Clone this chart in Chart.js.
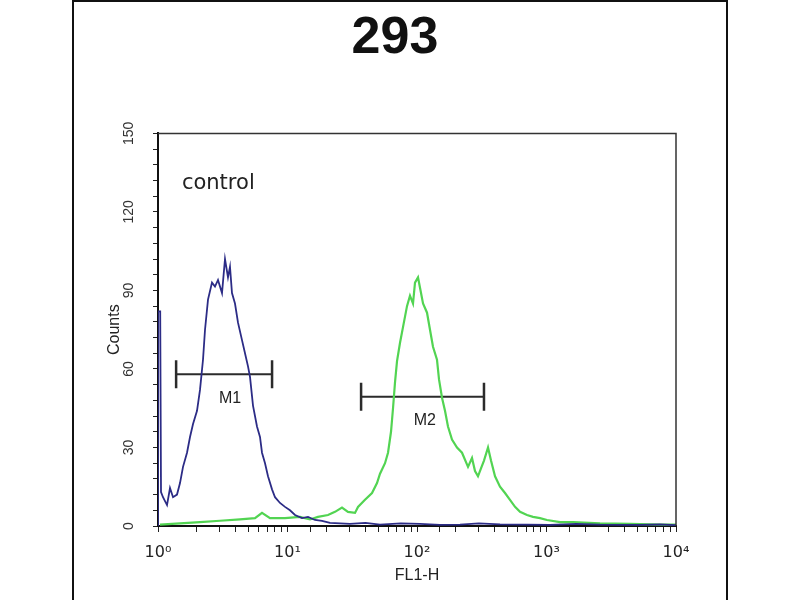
<!DOCTYPE html>
<html>
<head>
<meta charset="utf-8">
<script src="https://cdn.jsdelivr.net/npm/chart.js@4"></script>
<style>
  html, body { margin: 0; padding: 0; background: #fff; }
  #frame { position: absolute; left: 72px; top: 0; width: 656px; height: 620px; border: 2px solid #111; box-sizing: border-box; }
  #wrap { position: absolute; left: 0; top: 0; width: 800px; height: 600px; }
</style>
</head>
<body>
<div id="frame"></div>
<div id="wrap"><canvas id="facsChart" width="800" height="600"></canvas></div>
<script>
// --- DATA ---
const chartTitle = '293';
const xTickLabels = { 1: '10\u2070', 10: '10\u00b9', 100: '10\u00b2', 1000: '10\u00b3', 10000: '10\u2074' };

// control histogram (blue)
const controlX = [1, 1, 1.04, 1.055, 1.093, 1.174, 1.238, 1.306, 1.402, 1.479, 1.56, 1.675, 1.767, 1.864, 2.001, 2.11, 2.226, 2.307, 2.433,
  2.612, 2.755, 2.906, 3.121, 3.291, 3.471, 3.597, 3.727, 3.931, 4.148, 4.453, 4.697, 4.955, 5.134, 5.415, 5.813, 6.132, 6.355,
  6.705, 7.071, 7.594, 8.01, 8.752, 9.566, 10.45, 11.43, 12.94, 14.4, 16.31, 18.47, 21.29, 25.43, 30.38, 40, 51.8, 75, 105.5,
  150, 214.8, 300, 437.5, 700, 1064, 1700, 2589, 4000, 5272, 7500, 10000];
const controlY = [0, 82, 82, 13, 11, 8, 14.5, 11, 12, 16.4, 22.6, 28, 34, 39, 44, 52, 63.5, 75, 86.5,
  93, 91.5, 94, 89, 102, 95, 99, 89, 85, 77.7, 71, 66, 61, 57, 46, 38, 34, 28,
  24, 19, 14, 11, 8.8, 7.3, 6, 4.2, 3, 3.5, 2.3, 2, 1.2, 1, 0.8, 1.2, 0.5, 1, 0.8,
  0.4, 0.5, 1, 0.6, 0.5, 0.4, 0.8, 0.5, 0.4, 0.4, 0.6, 0.3];

// stained sample histogram (green)
const sampleX = [1.036, 1.479, 2.11, 3.012, 4.298, 5.611, 6.355, 7.326, 9.566, 12.49, 14.92, 17.2, 20.55, 23.27, 26.35, 29.32,
  33.21, 35.03, 39.67, 44.94, 49.11, 51.81, 56.62, 59.73, 63, 65.28, 67.66, 70.1, 73.94, 77.97, 83.71, 88.28, 93.13, 96.51,
  101.8, 105.5, 111.3, 119.5, 126, 132.9, 142.7, 147.9, 156, 164.5, 173.5, 186.3, 203.7, 222.6, 247.7, 265.9, 280.5, 295.8,
  312, 329.1, 353.5, 372.8, 400.4, 437.5, 478.2, 522.6, 571.4, 624.5, 707.2, 786.6, 890.9, 1009, 1271, 1602, 2589, 4415, 7521, 10000];
const sampleY = [0.5, 1, 1.5, 2, 2.5, 3, 5, 3, 3, 3.5, 2.5, 3.5, 4.2, 5.4, 7, 5.4,
  5, 7.3, 10, 12.6, 16.4, 20, 24, 28, 36, 45, 55, 63, 70, 76, 84, 88, 85, 93,
  95, 91, 85, 81.5, 75, 68.5, 63.5, 56, 49, 44, 38, 33, 30, 28, 22.6, 26, 21, 19,
  22, 25, 30, 25, 19, 15, 12.6, 10, 7.3, 5.4, 4.2, 3.5, 3, 2.3, 1.5, 1.5, 1, 0.8, 0.5, 0.5];

// markers M1 / M2
const gateNames = ['M1', 'M2'];
const gateFrom = [1.38, 37];
const gateTo = [7.6, 329];
const gateLevel = [58, 49.4];
const gateLabelX = [3.6, 115];
const gateLabelY = [48.6, 40.2];

const noteText = 'control';
const noteX = 1.53;
const noteY = 131;

// --- CHART ---
function toPoints(xs, ys) {
    return xs.map((x, i) => ({ x: x, y: ys[i] }));
}

const gateSets = gateNames.map((name, i) => ({
    label: name,
    data: [{ x: gateFrom[i], y: gateLevel[i] }, { x: gateTo[i], y: gateLevel[i] }],
    showLine: true,
    borderColor: '#2b2b2b',
    borderWidth: 2,
    pointStyle: 'line',
    rotation: 90,
    pointRadius: 14,
    pointBorderWidth: 2.5,
    pointBorderColor: '#2b2b2b'
}));

const frameAndText = {
    id: 'frameAndText',
    afterDatasetsDraw(chart) {
        const c = chart.ctx;
        const a = chart.chartArea;
        const xs = chart.scales.x, ys = chart.scales.y;
        c.save();
        c.strokeStyle = '#333';
        c.lineWidth = 1.5;
        c.beginPath();
        c.moveTo(a.left, a.top);
        c.lineTo(a.right, a.top);
        c.lineTo(a.right, a.bottom);
        c.stroke();

        c.fillStyle = '#222';
        c.textBaseline = 'middle';
        c.textAlign = 'left';
        c.font = '21px "DejaVu Sans"';
        c.fillText(noteText, xs.getPixelForValue(noteX), ys.getPixelForValue(noteY));

        c.textAlign = 'center';
        c.font = '16px "Liberation Sans"';
        gateNames.forEach((name, i) => {
            c.fillText(name, xs.getPixelForValue(gateLabelX[i]), ys.getPixelForValue(gateLabelY[i]));
        });
        c.restore();
    }
};

const ctx = document.getElementById('facsChart').getContext('2d');
new Chart(ctx, {
    type: 'scatter',
    data: {
        datasets: [{
            label: 'control',
            data: toPoints(controlX, controlY),
            showLine: true,
            borderColor: '#2c2c86',
            borderWidth: 1.8,
            pointRadius: 0,
            tension: 0
        }, {
            label: 'sample',
            data: toPoints(sampleX, sampleY),
            showLine: true,
            borderColor: '#52d452',
            borderWidth: 2.2,
            pointRadius: 0,
            tension: 0
        }, ...gateSets]
    },
    options: {
        responsive: false,
        animation: false,
        layout: { padding: { left: 114, right: 124, top: 7, bottom: 0 } },
        plugins: {
            legend: { display: false },
            tooltip: { enabled: false },
            title: {
                display: true,
                text: chartTitle,
                color: '#111',
                font: { family: 'Liberation Sans', size: 52, weight: 'bold' },
                padding: { top: 0, bottom: 64 }
            }
        },
        scales: {
            x: {
                type: 'logarithmic',
                min: 1,
                max: 10000,
                border: { color: '#111', width: 2 },
                grid: { drawOnChartArea: false, tickLength: 6, tickColor: '#222' },
                ticks: {
                    autoSkip: false,
                    maxRotation: 0,
                    padding: 11,
                    color: '#222',
                    font: { family: 'DejaVu Sans', size: 16 },
                    callback: (v) => xTickLabels[v] || ''
                },
                title: { display: true, text: 'FL1-H', color: '#222', font: { family: 'Liberation Sans', size: 16 }, padding: { top: 0, bottom: 15 } },
                afterFit: (scale) => { scale.height = 74; }
            },
            y: {
                min: 0,
                max: 150,
                border: { color: '#111', width: 2 },
                grid: { drawOnChartArea: false, tickLength: 5, tickColor: '#222' },
                ticks: {
                    stepSize: 6,
                    autoSkip: false,
                    minRotation: 90,
                    maxRotation: 90,
                    crossAlign: 'center',
                    padding: 12,
                    color: '#333',
                    font: { family: 'Liberation Sans', size: 14 },
                    callback: (v) => (v % 30 === 0 ? String(v) : '')
                },
                title: { display: true, text: 'Counts', color: '#222', font: { family: 'Liberation Sans', size: 16 }, padding: { top: -8.6, bottom: 0 } },
                afterFit: (scale) => { scale.width = 44; }
            }
        }
    },
    plugins: [frameAndText]
});
</script>
</body>
</html>
